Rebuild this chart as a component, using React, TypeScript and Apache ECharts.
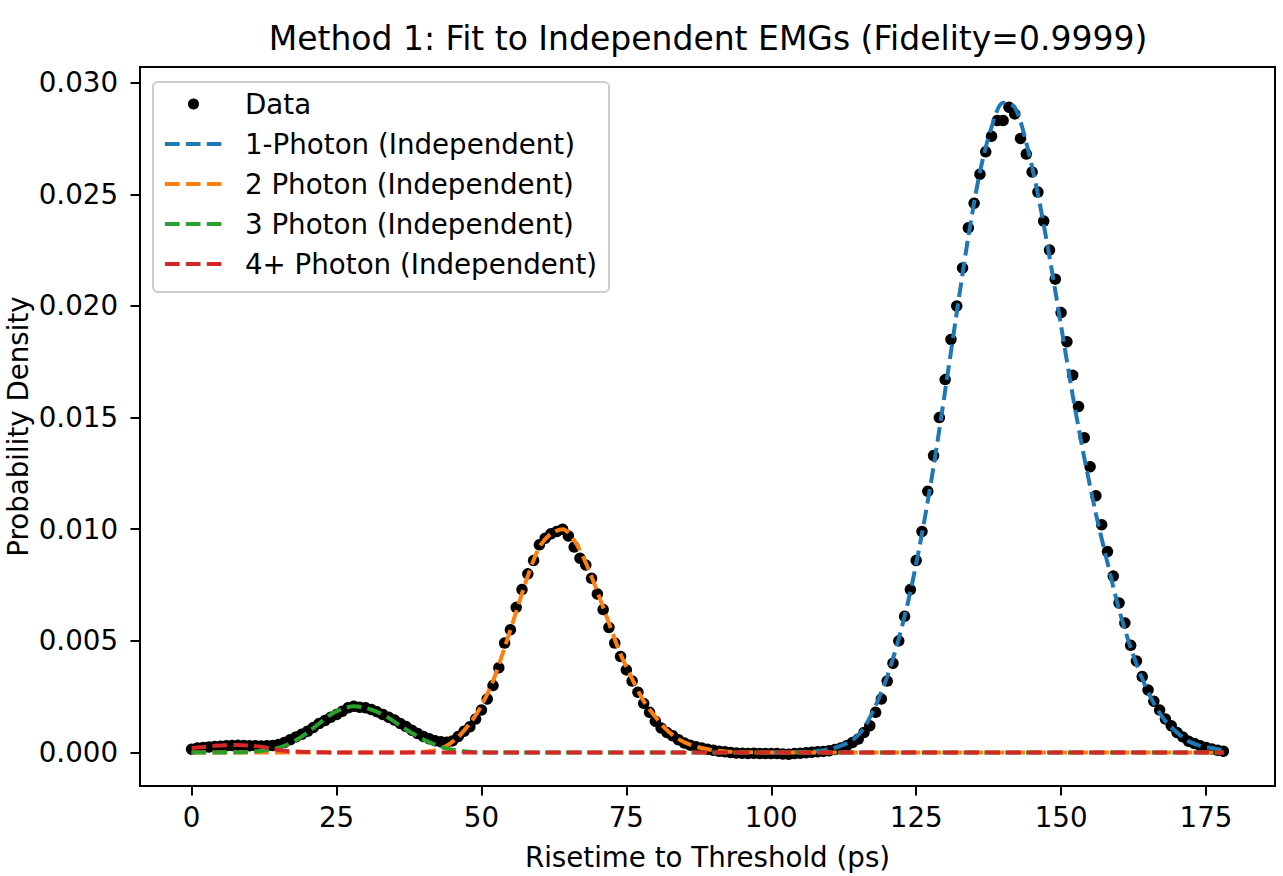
import { useEffect, useRef } from 'react';
import * as echarts from 'echarts';

const FONT = 'DejaVu Sans';

// measured points: x = xStart + i * xStep (ps)
const xStart = 0;
const xStep = 1;
const density = [
  0.00015, 0.0002, 0.00022, 0.00025, 0.00027, 0.00028, 0.0003, 0.00031, 0.00032, 0.00031,
  0.0003, 0.0003, 0.00029, 0.0003, 0.00031, 0.00036, 0.00045, 0.00057, 0.0007, 0.00082,
  0.00095, 0.00112, 0.0013, 0.00143, 0.00158, 0.0017, 0.00185, 0.002, 0.00207, 0.00203,
  0.002, 0.00193, 0.00182, 0.0017, 0.00158, 0.00146, 0.0013, 0.00116, 0.001, 0.00085,
  0.00072, 0.00062, 0.00053, 0.00048, 0.00046, 0.00052, 0.00072, 0.00095, 0.00115, 0.0015,
  0.0019, 0.0024, 0.003, 0.0038, 0.0049, 0.0055, 0.0065, 0.0073, 0.008, 0.0086,
  0.0093, 0.0096, 0.0098, 0.0099, 0.01, 0.0097, 0.0092, 0.0087, 0.0084, 0.0078,
  0.0071, 0.0064, 0.0056, 0.0049, 0.0043, 0.0037, 0.0032, 0.0027, 0.0022, 0.0018,
  0.0014, 0.0011, 0.0009, 0.00075, 0.00057, 0.00043, 0.00033, 0.00026, 0.0002, 0.00015,
  0.0001, 0.00006, 0.00003, 0.0, -0.00002, -0.00003, -0.00004, -0.00003, -0.00005, -0.00004,
  -0.00005, -0.00004, -0.00007, -0.00008, -0.00005, -0.00003, -0.00001, 0.00001, 0.00003, 0.00005,
  0.00008, 0.00013, 0.0002, 0.0003, 0.00045, 0.0006, 0.0009, 0.0012, 0.0018, 0.0024,
  0.0032, 0.004, 0.005, 0.0061, 0.0073, 0.0086, 0.0099, 0.0117, 0.0133, 0.015,
  0.0167, 0.0185, 0.02, 0.0217, 0.0235, 0.0246, 0.0259, 0.0269, 0.0276, 0.0283,
  0.0283, 0.0289, 0.0286, 0.0275, 0.0268, 0.026, 0.0251, 0.0238, 0.0225, 0.0212,
  0.0197, 0.0184, 0.0169, 0.0155, 0.0141, 0.0128, 0.0115, 0.0102, 0.009, 0.0079,
  0.0067, 0.0058, 0.0048, 0.0041, 0.0034, 0.0028, 0.0023, 0.0019, 0.0015, 0.0012,
  0.0009, 0.0007, 0.0005, 0.0004, 0.0003, 0.00022, 0.00016, 0.0001, 0.00006,
];

// 1-photon fit
const fit1X = [
  100, 102, 104, 106, 108, 110, 112, 114, 116, 118,
  120, 122, 124, 126, 128, 130, 132, 134, 136, 138,
  140, 142, 144, 146, 148, 150, 152, 154, 156, 158,
  160, 162, 164, 166, 168, 170, 172, 174, 176, 178,
];
const fit1Y = [
  0, 0, 0.00001, 0.00003, 0.00007, 0.00015, 0.0003, 0.00055, 0.0011, 0.0021,
  0.0034, 0.0051, 0.0072, 0.0098, 0.0128, 0.0162, 0.0197, 0.0231, 0.026, 0.028,
  0.0291, 0.0289, 0.0273, 0.025, 0.0222, 0.0191, 0.016, 0.0132, 0.0107, 0.0085,
  0.0064, 0.0047, 0.0033, 0.0022, 0.0014, 0.0009, 0.0005, 0.0003, 0.0002, 0.0001,
];

// 2-photon fit
const fit2X = [
  0, 30, 36, 38, 40, 42, 44, 46, 48, 50, 52, 54, 56, 58, 60, 62, 64, 66, 68, 70,
  72, 74, 76, 78, 80, 82, 84, 86, 88, 90, 92, 94, 96, 100, 178,
];
const fit2Y = [
  0, 0, 0, 0.00001, 0.00003, 0.0001, 0.0003, 0.0007, 0.0013, 0.0021, 0.0032, 0.0047, 0.0063, 0.0079, 0.0092, 0.0098, 0.01, 0.0095, 0.0085, 0.0072,
  0.0058, 0.0044, 0.0033, 0.0023, 0.0016, 0.001, 0.0006, 0.00035, 0.0002, 0.0001, 0.00005, 0.00002, 0.00001, 0, 0,
];

// 3-photon fit
const fit3X = [
  0, 6, 8, 10, 12, 14, 16, 18, 20, 22, 24, 26, 28, 30, 32, 34, 36, 38, 40, 42,
  44, 46, 48, 50, 52, 178,
];
const fit3Y = [
  0, 0, 0.00001, 0.00003, 0.00007, 0.00015, 0.0003, 0.00055, 0.0009, 0.0013, 0.0017, 0.00195, 0.00207, 0.002, 0.00182, 0.00155, 0.0012, 0.00087, 0.00058, 0.00035,
  0.00018, 0.00008, 0.00003, 0.00001, 0, 0,
];

// 4+ photon fit
const fit4X = [0, 2, 4, 6, 8, 10, 12, 14, 16, 18, 20, 22, 24, 178];
const fit4Y = [
  0.0002, 0.00025, 0.0003, 0.00033, 0.00034, 0.00031, 0.00026, 0.00016, 0.00008, 0.00004,
  0.00002, 0.00001, 0, 0,
];

const xTicks = [0, 25, 50, 75, 100, 125, 150, 175];
const yTicks = [0, 0.005, 0.01, 0.015, 0.02, 0.025, 0.03];

const names = [
  'Data',
  '1-Photon (Independent)',
  '2 Photon (Independent)',
  '3 Photon (Independent)',
  '4+ Photon (Independent)',
];
const colors = ['#000000', '#1f77b4', '#ff7f0e', '#2ca02c', '#d62728'];

const DASH = [14.6, 6.3];
const FS = 27.7;

const pair = (xs: number[], ys: number[]) => xs.map((x, i) => [x, ys[i]]);

export default function App() {
  const chartRef = useRef<HTMLDivElement>(null);

  useEffect(() => {
    if (!chartRef.current) return;
    const chart = echarts.init(chartRef.current, null, { renderer: 'svg' });

    const fitLine = (idx: number, data: number[][]) => ({
      name: names[idx],
      type: 'line',
      data,
      symbol: 'none',
      showSymbol: false,
      smooth: 0.3,
      lineStyle: { color: colors[idx], width: 4, type: DASH },
      itemStyle: { color: colors[idx] },
      z: 3,
    });

    chart.setOption({
      animation: false,
      backgroundColor: '#ffffff',
      textStyle: { fontFamily: FONT },
      title: {
        text: 'Method 1: Fit to Independent EMGs (Fidelity=0.9999)',
        left: 703,
        top: 17,
        textAlign: 'center',
        textStyle: { fontSize: 33, fontWeight: 'normal', color: '#000', fontFamily: FONT },
      },
      legend: {
        orient: 'vertical',
        left: 153,
        top: 82,
        data: [
          { name: names[0], icon: 'circle' },
          { name: names[1], itemStyle: { opacity: 0 } },
          { name: names[2], itemStyle: { opacity: 0 } },
          { name: names[3], itemStyle: { opacity: 0 } },
          { name: names[4], itemStyle: { opacity: 0 } },
        ],
        itemWidth: 57,
        itemHeight: 11,
        itemGap: 12,
        padding: [8, 12, 14, 10],
        backgroundColor: 'rgba(255,255,255,0.8)',
        borderColor: '#cccccc',
        borderWidth: 2,
        borderRadius: 5,
        lineStyle: { width: 4, type: DASH },
        textStyle: {
          fontSize: FS,
          color: '#000',
          fontFamily: FONT,
          lineHeight: 28,
          padding: [0, 0, 0, 18],
        },
      },
      grid: {
        left: 140,
        top: 67,
        width: 1135,
        height: 719,
        show: true,
        borderColor: '#000',
        borderWidth: 2,
        backgroundColor: 'transparent',
        containLabel: false,
        outerBoundsMode: 'none',
      },
      xAxis: {
        type: 'value',
        min: -8.9,
        max: 186.9,
        name: 'Risetime to Threshold (ps)',
        nameLocation: 'middle',
        nameGap: 57,
        nameMoveOverlap: false,
        nameTextStyle: { fontSize: FS, color: '#000', fontFamily: FONT },
        axisLine: { show: true, onZero: false, lineStyle: { color: '#000', width: 2 } },
        axisTick: { show: true, inside: false, length: 9.5, lineStyle: { color: '#000', width: 2 }, customValues: xTicks },
        axisLabel: { customValues: xTicks, fontSize: FS, color: '#000', margin: 17, fontFamily: FONT },
        splitLine: { show: false },
      },
      yAxis: {
        type: 'value',
        min: -0.0015,
        max: 0.0307,
        name: 'Probability Density',
        nameLocation: 'middle',
        nameGap: 108,
        nameMoveOverlap: false,
        nameTextStyle: { fontSize: FS, color: '#000', fontFamily: FONT, lineHeight: 28 },
        axisLine: { show: true, onZero: false, lineStyle: { color: '#000', width: 2 } },
        axisTick: { show: true, inside: false, length: 9.5, lineStyle: { color: '#000', width: 2 }, customValues: yTicks },
        axisLabel: {
          customValues: yTicks,
          fontSize: FS,
          color: '#000',
          margin: 22,
          fontFamily: FONT,
          formatter: (v: number) => v.toFixed(3),
        },
        splitLine: { show: false },
      },
      series: [
        {
          name: names[0],
          type: 'scatter',
          data: density.map((v, i) => [xStart + i * xStep, v]),
          symbol: 'circle',
          symbolSize: 11.5,
          itemStyle: { color: colors[0], opacity: 1 },
          z: 2,
        },
        fitLine(1, pair(fit1X, fit1Y)),
        fitLine(2, pair(fit2X, fit2Y)),
        fitLine(3, pair(fit3X, fit3Y)),
        fitLine(4, pair(fit4X, fit4Y)),
      ],
    });

    return () => chart.dispose();
  }, []);

  return (
    <div
      ref={chartRef}
      style={{ position: 'fixed', left: 0, top: 0, width: 1283, height: 876, background: '#fff' }}
    />
  );
}
